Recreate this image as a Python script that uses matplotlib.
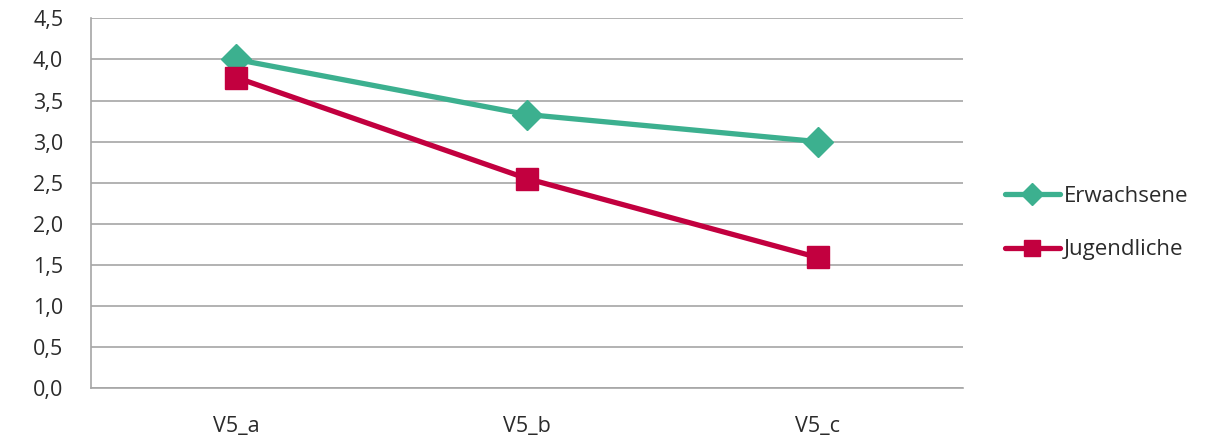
import matplotlib.pyplot as plt

categories = ["V5_a", "V5_b", "V5_c"]
erwachsene = [4.0, 3.33, 3.0]
jugendliche = [3.78, 2.55, 1.59]
yticks = [0.0, 0.5, 1.0, 1.5, 2.0, 2.5, 3.0, 3.5, 4.0, 4.5]

green = "#3CB08F"
red = "#C2003F"
grid_gray = "#A6A6A6"

plt.rcParams['font.family'] = ['Open Sans', 'DejaVu Sans']

fig = plt.figure(figsize=(12.23, 4.38), dpi=100)
ax = fig.add_axes([0.0744, 0.114, 0.7130, 0.844])

x = range(len(categories))
ax.plot(x, erwachsene, color=green, lw=3.8, marker='D', markersize=15,
        label="Erwachsene", solid_capstyle='round')
ax.plot(x, jugendliche, color=red, lw=3.8, marker='s', markersize=16,
        label="Jugendliche", solid_capstyle='round')

ax.set_xlim(-0.5, 2.5)
ax.set_ylim(0, 4.5)
ax.set_yticks(yticks)
ax.set_yticklabels([f"{v:.1f}".replace('.', ',') for v in yticks])
ax.set_xticks(list(x))
ax.set_xticklabels(categories)
ax.yaxis.grid(True, color=grid_gray, lw=1.2)
ax.set_axisbelow(True)
ax.tick_params(length=0, labelsize=15.5, colors="#2b2b2b")
ax.tick_params(axis='y', pad=20)
ax.tick_params(axis='x', pad=20)

for side in ['top', 'right']:
    ax.spines[side].set_visible(False)
for side in ['left', 'bottom']:
    ax.spines[side].set_color(grid_gray)
    ax.spines[side].set_linewidth(1.2)

h, l = ax.get_legend_handles_labels()
leg = fig.legend(h, l, loc='center left', bbox_to_anchor=(0.805, 0.49),
                 frameon=False, fontsize=16, handlelength=2.5,
                 handletextpad=0.15, labelspacing=1.45, markerscale=0.75)
for t in leg.get_texts():
    t.set_color("#2b2b2b")

fig.savefig("out.png", dpi=100)
